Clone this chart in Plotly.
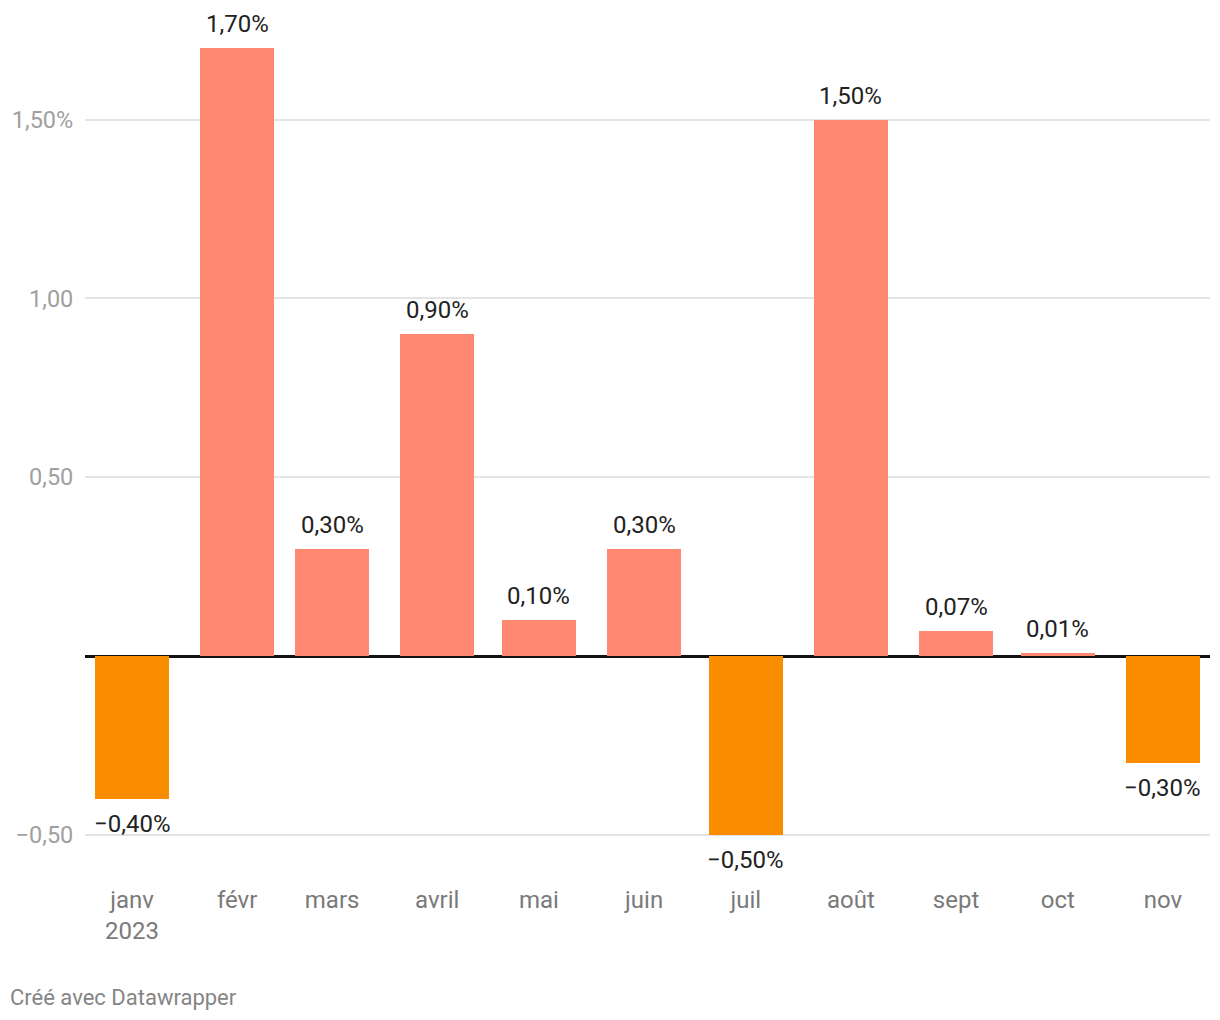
import plotly.graph_objects as go

months = ["2023-01-01", "2023-02-01", "2023-03-01", "2023-04-01", "2023-05-01", "2023-06-01",
          "2023-07-01", "2023-08-01", "2023-09-01", "2023-10-01", "2023-11-01"]
month_labels = ["janv<br>2023", "févr", "mars", "avril", "mai", "juin",
                "juil", "août", "sept", "oct", "nov"]
values = [-0.40, 1.70, 0.30, 0.90, 0.10, 0.30, -0.50, 1.50, 0.07, 0.01, -0.30]

y_tickvals = [-0.5, 0.5, 1.0, 1.5]
y_ticktext = ["\u22120,50", "0,50", "1,00", "1,50%"]

POS = "#ff8970"
NEG = "#fa8c00"


def fmt(v):
    s = f"{abs(v):.2f}".replace(".", ",") + "%"
    return ("\u2212" + s) if v < 0 else s


colors = [NEG if v < 0 else POS for v in values]
day_ms = 86400000

fig = go.Figure()
fig.add_trace(go.Bar(
    x=months, y=values, marker=dict(color=colors, line=dict(width=0)),
    width=[21.8 * day_ms] * len(values), hoverinfo="skip", showlegend=False,
))

for m, v in zip(months, values):
    fig.add_annotation(
        x=m, y=v, xref="x", yref="y", text=fmt(v), showarrow=False,
        yshift=24 if v >= 0 else -25, yanchor="middle", xanchor="center",
        font=dict(family="Roboto", size=24, color="#222222"),
    )

fig.add_annotation(
    xref="paper", yref="paper", x=-77 / 1125, y=(836 - 997) / 788,
    xanchor="left", yanchor="middle", showarrow=False,
    text="Créé avec Datawrapper",
    font=dict(family="Roboto", size=22, color="#858585"),
)

fig.update_layout(
    width=1220, height=1020,
    margin=dict(l=85, r=10, t=48, b=184),
    paper_bgcolor="white", plot_bgcolor="white",
    font=dict(family="Roboto"),
    bargap=0,
    xaxis=dict(
        type="date",
        range=["2022-12-18 03:00", "2023-11-14 21:00"],
        tickvals=months, ticktext=month_labels,
        ticks="outside", ticklen=42, tickcolor="rgba(0,0,0,0)",
        showgrid=False, zeroline=False, showline=False,
        tickfont=dict(family="Roboto", size=24, color="#7a7a7a"),
    ),
    yaxis=dict(
        range=[-0.503, 1.7],
        tickvals=y_tickvals, ticktext=y_ticktext,
        ticks="outside", ticklen=6, tickcolor="rgba(0,0,0,0)",
        showgrid=True, gridcolor="#e4e4e4", gridwidth=1.5,
        zeroline=True, zerolinecolor="#111111", zerolinewidth=2.5,
        showline=False,
        tickfont=dict(family="Roboto", size=23.5, color="#a0a0a0"),
    ),
)

fig.write_html("out.html", config={"displayModeBar": False},
               post_script="document.body.style.margin='0';")
